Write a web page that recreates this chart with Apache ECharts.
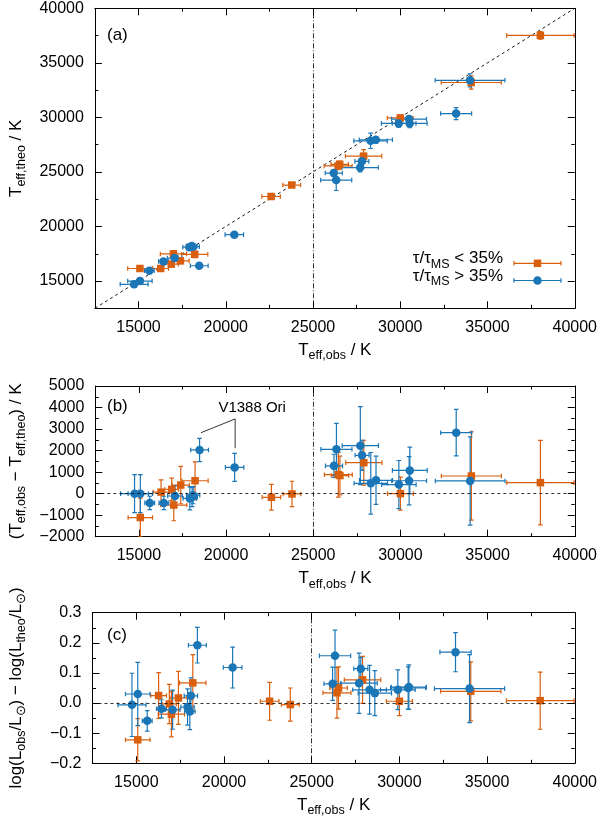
<!DOCTYPE html>
<html><head><meta charset="utf-8">
<script src="https://cdn.jsdelivr.net/npm/echarts@6/dist/echarts.min.js"></script>
<style>html,body{margin:0;padding:0;background:#fff}#c{width:600px;height:819px}</style>
</head><body><div id="c"></div>
<script>
// ---- data ----
// young stars: tau/tau_MS < 35%
const youngTobs     = [15080, 16270, 16880, 17000, 17400, 18220, 22600, 23780, 26440, 26530, 27900, 30000, 34070, 38030];
const youngTobsErr  = [  700,   450,   400,   750,   500,   750,   530,   510,   800,   500,  1040,   740,  1720,  1930];
const youngTtheo    = [16150, 16150, 16550, 17480, 16850, 17450, 22750, 23800, 25550, 25700, 26450, 29950, 33200, 37520];
const youngTtheoErr = [  250,   200,   250,   300,   250,   300,   200,   200,   350,   300,   600,   250,   600,   350];
const youngDT       = [-1110,    70,   200,  -530,   400,   600,  -170,   -15,   880,   840,  1440,     0,   820,   510];
const youngDTErr    = [  900,   570,   520,   730,   870,   880,   600,   590,  1040,   900,  1040,   770,  2050,  1960];
const youngDL       = [-0.122, 0.025, -0.003, -0.037, 0.017, 0.067, 0.006, -0.005, 0.034, 0.050, 0.077, 0.006, 0.039, 0.008];
const youngDLErr    = [ 0.070, 0.076,  0.065,  0.075, 0.088, 0.094, 0.063,  0.055, 0.084, 0.070, 0.078, 0.048, 0.098, 0.095];
// evolved stars: tau/tau_MS > 35%
const oldTobs     = [14750, 15080, 15620, 16430, 17070, 17920, 18110, 18050, 18480, 20490, 26190, 26330, 27700, 27800, 28300, 28600, 29910, 30500, 30540, 33200, 34000];
const oldTobsErr  = [  800,   700,   280,   280,   420,   380,   380,   300,   510,   530,   490,   890,  1040,   400,   960,   950,   990,  1000,  1000,   890,  2000];
const oldTtheo    = [14700, 15000, 15950, 16800, 17100, 18100, 18150, 18200, 16400, 19250, 24900, 24250, 25400, 25970, 27850, 27950, 29450, 29850, 29450, 30350, 33400];
const oldTtheoErr = [  250,   250,   200,   200,   250,   200,   200,   200,   250,   250,   300,   950,   400,   650,   700,   300,   350,   300,   400,   550,   600];
const oldDT       = [    0,     0,  -430,  -430,  -110,  -220,   -70,  -150,  2030,  1220,  1290,  2060,  2230,  1780,   480,   620,   420,   600,  1080,  2830,   590];
const oldDTErr    = [  880,   880,   310,   310,   470,   530,   400,   450,   540,   650,   540,  1200,  1810,   700,  1430,  1120,  1120,  1120,  1080,  1080,  2050];
const oldDL       = [-0.006, 0.030, -0.059, -0.019, -0.022, -0.013, 0.024, -0.028, 0.192, 0.118, 0.064, 0.157, 0.066, 0.114, 0.044, 0.033, 0.044, 0.050, 0.053, 0.169, 0.048];
const oldDLErr    = [ 0.105, 0.105,  0.034,  0.030,  0.065,  0.060, 0.060,  0.060, 0.059, 0.068, 0.055, 0.085, 0.100, 0.038, 0.081, 0.075, 0.066, 0.070, 0.074, 0.065, 0.113];

// axes / reference lines
const xMajor  = [15000, 20000, 25000, 30000, 35000, 40000];
const xMinor  = [12500, 17500, 22500, 27500, 32500, 37500];
const yaMajor = [15000, 20000, 25000, 30000, 35000, 40000];
const yaMinor = [12500, 17500, 22500, 27500, 32500, 37500];
const ybMajor = [-2000, -1000, 0, 1000, 2000, 3000, 4000, 5000];
const ybMinor = [-1500, -500, 500, 1500, 2500, 3500, 4500];
const ycMajor = [-0.2, -0.1, 0, 0.1, 0.2, 0.3];
const ycMinor = [-0.15, -0.05, 0.05, 0.15, 0.25];
const xRange = [12500, 40000];
const yaRange = [12500, 40000];
const ybRange = [-2000, 5000];
const ycRange = [-0.2, 0.3];
const identityLine = [12500, 40000];
const ageSplitT = 25000;
const v1388Bracket = [[18560, 2830], [20520, 3470], [20520, 2110]];
const v1388Label = 'V1388 Ori';
const legendLabels = ['< 35%', '> 35%'];

// ---- styling ----
const ORANGE = '#d95f0e';
const BLUE = '#1a76b6';
const FONT = 'Liberation Sans, Arial, Helvetica, sans-serif';
const grids = [
  {left: 91.7, top: 8.3, width: 485, height: 300},
  {left: 91.7, top: 386, width: 485, height: 150.7},
  {left: 91.7, top: 612.7, width: 485, height: 150.6}
];
const rich = {
  m: {fontSize: 17, fontFamily: FONT, color: '#000', lineHeight: 24, verticalAlign: 'middle'},
  s: {fontSize: 12.5, fontFamily: FONT, color: '#000', lineHeight: 12, verticalAlign: 'bottom'}
};
const minus = v => (v < 0 ? '\u2212' : '');
const fmtInt = v => minus(v) + Math.abs(Math.round(v));
const fmt1 = v => minus(v < -1e-9 ? -1 : 1) + Math.abs(v).toFixed(1);
const TICKFONT = 16;

const xAxes = [], yAxes = [];
function addAxes(g, xr, yr, yMaj, yMin, yFmt, yName, yGap) {
  const common = (min, max) => ({min, max, splitLine: {show: false}, scale: true});
  const lineStyle = {color: '#000', width: 1};
  xAxes.push(Object.assign(common(xr[0], xr[1]), {
    gridIndex: g, type: 'value', position: 'bottom',
    axisLine: {show: true, onZero: false, lineStyle},
    axisTick: {show: true, inside: true, length: 7, customValues: xMajor, lineStyle},
    axisLabel: {show: true, customValues: xMajor, margin: 11, fontSize: TICKFONT, fontFamily: FONT, color: '#000', formatter: v => String(v)},
    name: '{m|T}{s|eff,obs}{m| / K}', nameLocation: 'middle', nameGap: 30,
    nameTextStyle: {rich}
  }));
  xAxes.push(Object.assign(common(xr[0], xr[1]), {
    gridIndex: g, type: 'value', position: 'bottom',
    axisLine: {show: false, onZero: false}, axisLabel: {show: false},
    axisTick: {show: true, inside: true, length: 3.5, customValues: xMinor, lineStyle}
  }));
  xAxes.push(Object.assign(common(xr[0], xr[1]), {
    gridIndex: g, type: 'value', position: 'top',
    axisLine: {show: true, onZero: false, lineStyle}, axisLabel: {show: false},
    axisTick: {show: true, inside: true, length: 7, customValues: xMajor, lineStyle}
  }));
  xAxes.push(Object.assign(common(xr[0], xr[1]), {
    gridIndex: g, type: 'value', position: 'top',
    axisLine: {show: false, onZero: false}, axisLabel: {show: false},
    axisTick: {show: true, inside: true, length: 3.5, customValues: xMinor, lineStyle}
  }));
  yAxes.push(Object.assign(common(yr[0], yr[1]), {
    gridIndex: g, type: 'value', position: 'left',
    axisLine: {show: true, onZero: false, lineStyle},
    axisTick: {show: true, inside: true, length: 7, customValues: yMaj, lineStyle},
    axisLabel: {show: true, customValues: yMaj, margin: 11, fontSize: TICKFONT, fontFamily: FONT, color: '#000', formatter: yFmt},
    name: yName, nameLocation: 'middle', nameRotate: 90, nameGap: yGap,
    nameTextStyle: {rich}
  }));
  yAxes.push(Object.assign(common(yr[0], yr[1]), {
    gridIndex: g, type: 'value', position: 'left',
    axisLine: {show: false, onZero: false}, axisLabel: {show: false},
    axisTick: {show: true, inside: true, length: 3.5, customValues: yMin, lineStyle}
  }));
  yAxes.push(Object.assign(common(yr[0], yr[1]), {
    gridIndex: g, type: 'value', position: 'right',
    axisLine: {show: true, onZero: false, lineStyle}, axisLabel: {show: false},
    axisTick: {show: true, inside: true, length: 7, customValues: yMaj, lineStyle}
  }));
  yAxes.push(Object.assign(common(yr[0], yr[1]), {
    gridIndex: g, type: 'value', position: 'right',
    axisLine: {show: false, onZero: false}, axisLabel: {show: false},
    axisTick: {show: true, inside: true, length: 3.5, customValues: yMin, lineStyle}
  }));
}
addAxes(0, xRange, yaRange, yaMajor, yaMinor, v => String(v), '{m|T}{s|eff,theo}{m| / K}', 56);
addAxes(1, xRange, ybRange, ybMajor, ybMinor, fmtInt, '{m|(T}{s|eff,obs}{m| \u2212 T}{s|eff,theo}{m|) / K}', 64);
addAxes(2, xRange, ycRange, ycMajor, ycMinor, fmt1, '{m|log(L}{s|obs}{m|/L}{s|\u2299}{m|) \u2212 log(L}{s|theo}{m|/L}{s|\u2299}{m|)}', 64);

function errRender(color) {
  return function (params, api) {
    const x = api.value(0), y = api.value(1), ex = api.value(2), ey = api.value(3);
    const l = api.coord([x - ex, y]), r = api.coord([x + ex, y]);
    const t = api.coord([x, y + ey]), b = api.coord([x, y - ey]);
    const c = 2.3;
    const style = {stroke: color, lineWidth: 1.2};
    return {type: 'group', children: [
      {type: 'line', shape: {x1: l[0], y1: l[1], x2: r[0], y2: r[1]}, style},
      {type: 'line', shape: {x1: t[0], y1: t[1], x2: b[0], y2: b[1]}, style},
      {type: 'line', shape: {x1: l[0], y1: l[1] - c, x2: l[0], y2: l[1] + c}, style},
      {type: 'line', shape: {x1: r[0], y1: r[1] - c, x2: r[0], y2: r[1] + c}, style},
      {type: 'line', shape: {x1: t[0] - c, y1: t[1], x2: t[0] + c, y2: t[1]}, style},
      {type: 'line', shape: {x1: b[0] - c, y1: b[1], x2: b[0] + c, y2: b[1]}, style}
    ]};
  };
}

const series = [];
function refLines(g, withZero) {
  series.push({type: 'line', xAxisIndex: g * 4, yAxisIndex: g * 4, data: [], z: 1,
    markLine: {silent: true, symbol: 'none', label: {show: false},
      lineStyle: {color: '#000', width: 0.8, type: [5, 2, 1, 2]}, data: [{xAxis: ageSplitT}]}});
  if (withZero) {
    series.push({type: 'line', xAxisIndex: g * 4, yAxisIndex: g * 4, data: [], z: 1,
      markLine: {silent: true, symbol: 'none', label: {show: false},
        lineStyle: {color: '#000', width: 0.8, type: [3, 3]}, data: [{yAxis: 0}]}});
  }
}
refLines(0, false); refLines(1, true); refLines(2, true);
series.push({type: 'line', xAxisIndex: 0, yAxisIndex: 0, z: 1, symbol: 'none', silent: true,
  data: identityLine.map(v => [v, v]), lineStyle: {color: '#000', width: 0.9, type: [3, 3]}});

function addGroup(g, xs, xe, ys, ye, color, symbol, size) {
  series.push({type: 'custom', xAxisIndex: g * 4, yAxisIndex: g * 4, clip: true, z: 3,
    renderItem: errRender(color), data: xs.map((v, i) => [v, ys[i], xe[i], ye[i]])});
  series.push({type: 'scatter', xAxisIndex: g * 4, yAxisIndex: g * 4, clip: true, z: 4,
    symbol, symbolSize: size, itemStyle: {color, opacity: 1},
    data: xs.map((v, i) => [v, ys[i]])});
}
addGroup(0, youngTobs, youngTobsErr, youngTtheo, youngTtheoErr, ORANGE, 'rect', 7.5);
addGroup(1, youngTobs, youngTobsErr, youngDT, youngDTErr, ORANGE, 'rect', 7.5);
addGroup(2, youngTobs, youngTobsErr, youngDL, youngDLErr, ORANGE, 'rect', 7.5);
addGroup(0, oldTobs, oldTobsErr, oldTtheo, oldTtheoErr, BLUE, 'circle', 8.5);
addGroup(1, oldTobs, oldTobsErr, oldDT, oldDTErr, BLUE, 'circle', 8.5);
addGroup(2, oldTobs, oldTobsErr, oldDL, oldDLErr, BLUE, 'circle', 8.5);

// V1388 Ori annotation
series.push({type: 'line', xAxisIndex: 4, yAxisIndex: 4, z: 5, symbol: 'none', silent: true,
  lineStyle: {color: '#000', width: 0.8}, data: v1388Bracket});
series.push({type: 'scatter', xAxisIndex: 4, yAxisIndex: 4, z: 6, silent: true,
  symbol: 'circle', symbolSize: 1, itemStyle: {color: '#000', opacity: 0},
  label: {show: true, formatter: v1388Label, position: 'top', offset: [17, 0], distance: 3,
    fontSize: 15, fontFamily: FONT, color: '#000', opacity: 1},
  data: [v1388Bracket[1]]});

const panelLabel = (txt, x, y) => ({type: 'text', left: x, top: y, style: {text: txt, font: '17px ' + FONT, fill: '#000'}});
const legendRow = (y, color, sym, txt) => ([
  {type: 'text', right: 600 - 503, top: y - 13, style: {text: '{m|\u03c4/\u03c4}{s|MS}{m| ' + txt + '}', rich, align: 'right'}},
  {type: 'line', shape: {x1: 514, y1: y, x2: 561, y2: y}, style: {stroke: color, lineWidth: 1.2}},
  {type: 'line', shape: {x1: 514, y1: y - 2.3, x2: 514, y2: y + 2.3}, style: {stroke: color, lineWidth: 1.2}},
  {type: 'line', shape: {x1: 561, y1: y - 2.3, x2: 561, y2: y + 2.3}, style: {stroke: color, lineWidth: 1.2}},
  sym === 'rect'
    ? {type: 'rect', shape: {x: 537.5 - 3.75, y: y - 3.75, width: 7.5, height: 7.5}, style: {fill: color}}
    : {type: 'circle', shape: {cx: 537.5, cy: y, r: 4.25}, style: {fill: color}}
]);

const chart = echarts.init(document.getElementById('c'), null, {renderer: 'canvas'});
chart.setOption({
  animation: false,
  backgroundColor: '#fff',
  grid: grids,
  xAxis: xAxes,
  yAxis: yAxes,
  series,
  graphic: [
    panelLabel('(a)', 107, 27),
    panelLabel('(b)', 107, 398),
    panelLabel('(c)', 107, 627),
    ...legendRow(263.3, ORANGE, 'rect', legendLabels[0]),
    ...legendRow(280.5, BLUE, 'circle', legendLabels[1])
  ]
});
</script></body></html>
